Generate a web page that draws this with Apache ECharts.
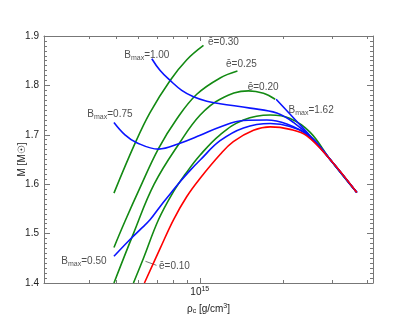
<!DOCTYPE html>
<html><head><meta charset="utf-8">
<script src="https://cdn.jsdelivr.net/npm/echarts@6/dist/echarts.min.js"></script>
<style>html,body{margin:0;padding:0;background:#fff}#c{width:407px;height:326px}</style>
</head><body><div id="c"></div>
<script>
// central density rho_c in units of 1e15 g/cm^3, mass M in solar masses
const rhoRed = [0.632,0.720,0.804,0.898,1.003,1.183,1.32,1.56,1.792,2.114,2.428,2.945,3.673];
const mRed   = [1.400,1.470,1.528,1.575,1.612,1.660,1.686,1.709,1.716,1.711,1.698,1.650,1.583];

const rhoE10 = [0.577,0.627,0.710,0.804,0.886,1.003,1.183,1.436,1.792,2.114,2.496,2.945,3.673];
const mE10   = [1.400,1.450,1.528,1.585,1.620,1.659,1.700,1.730,1.740,1.733,1.705,1.650,1.583];

const rhoE20 = [0.491,0.577,0.685,0.849,1.003,1.183,1.497,1.695,1.867];
const mE20   = [1.400,1.500,1.600,1.685,1.740,1.772,1.789,1.784,1.772];

const rhoE25 = [0.491,0.538,0.606,0.710,0.826,0.975,1.183,1.366];
const mE25   = [1.472,1.525,1.590,1.672,1.732,1.782,1.815,1.829];

const rhoE30 = [0.491,0.585,0.662,0.782,0.898,1.031];
const mE30   = [1.582,1.683,1.745,1.810,1.852,1.881];

const rhoB050 = [0.491,0.554,0.610,0.662,0.720,0.782,0.849,0.923,1.003,1.183,1.436,1.792,2.114,2.496,2.945,3.673];
const mB050   = [1.454,1.485,1.508,1.528,1.555,1.580,1.605,1.628,1.649,1.688,1.714,1.723,1.717,1.697,1.650,1.583];

const rhoB075 = [0.491,0.538,0.593,0.710,0.849,1.003,1.183,1.436,1.743,2.056,2.428,2.945,3.673];
const mB075   = [1.725,1.700,1.684,1.671,1.683,1.699,1.716,1.729,1.730,1.722,1.700,1.650,1.583];

const rhoB100 = [0.672,0.720,0.782,0.861,0.949,1.060,1.183,1.518,1.892,2.173,2.566,2.945,3.673];
const mB100   = [1.854,1.830,1.810,1.790,1.777,1.768,1.763,1.754,1.744,1.725,1.690,1.650,1.583];

const rhoB162 = [1.882,2.235,2.566,2.945,3.673];
const mB162   = [1.772,1.727,1.690,1.650,1.583];

const xMinorTickValues = [0.4,0.5,0.6,0.7,0.8,0.9,2,3,4];
const xMajorTickValues = [1];
const yMin = 1.4, yMax = 1.9, yStep = 0.1;

const FONT = '"Liberation Sans", Arial, sans-serif';
const TXT = '#222';
const AX = '#777';
const GREEN = '#138a13', BLUE = '#0a14ff', RED = '#ff0000';

const rich = {
  n:   {fontSize: 10, fontFamily: FONT, color: TXT, lineHeight: 12, verticalAlign: 'middle'},
  sub: {fontSize: 7, fontFamily: FONT, color: TXT, lineHeight: 8, padding: [8,0,0,0], verticalAlign: 'bottom'},
  sup: {fontSize: 7, fontFamily: FONT, color: TXT, lineHeight: 8, padding: [0,0,8,0], verticalAlign: 'top'}
};

function pairs(xs, ys) { return xs.map((x, i) => [x, ys[i]]); }

function xAxis(pos, ticks, len, showLabel, showLine, extra) {
  return Object.assign({
    type: 'log', logBase: 10, min: 0.275, max: 4.2, position: pos, gridIndex: 0,
    axisLine: {show: showLine, onZero: false, lineStyle: {color: AX, width: 1}},
    axisTick: {show: true, inside: true, length: len, customValues: ticks, lineStyle: {color: AX, width: 1}},
    axisLabel: {show: showLabel, customValues: xMajorTickValues, margin: 3,
      formatter: () => '{n|10}{sup|15}', rich: rich},
    splitLine: {show: false}, minorTick: {show: false}
  }, extra || {});
}
function yAxis(pos, showLabel, extra) {
  return Object.assign({
    type: 'value', min: yMin, max: yMax, interval: yStep, position: pos,
    axisLine: {show: true, lineStyle: {color: AX, width: 1}},
    axisTick: {show: true, inside: true, length: 6, lineStyle: {color: AX}},
    minorTick: {show: true, splitNumber: 10, length: 3, lineStyle: {color: AX}},
    axisLabel: {show: showLabel, margin: 5, color: TXT, fontSize: 10, fontFamily: FONT,
      formatter: v => v.toFixed(1)},
    splitLine: {show: false}, minorSplitLine: {show: false}
  }, extra || {});
}

function curve(xs, ys, color) {
  return {type: 'line', data: pairs(xs, ys), smooth: 0.4, showSymbol: false, symbol: 'none',
    lineStyle: {color: color, width: 1.6}, itemStyle: {color: color}, silent: true, z: 3};
}
function tag(xs, ys, idx, text, offset) {
  return {type: 'scatter', data: [[xs[idx], ys[idx]]], symbolSize: 1,
    itemStyle: {color: 'rgba(0,0,0,0)'}, silent: true, z: 5,
    label: {show: true, position: 'inside', offset: offset, formatter: text, rich: rich}};
}
const last = a => a.length - 1;

const option = {
  animation: false,
  backgroundColor: '#fff',
  grid: {left: 44, right: 34, top: 36, bottom: 43, containLabel: false},
  xAxis: [
    xAxis('bottom', xMinorTickValues, 3, true, true, {
      name: '{n|ρ}{sub|c}{n| [g/cm}{sup|3}{n|]}', nameLocation: 'middle', nameGap: 20,
      nameMoveOverlap: false, nameTextStyle: {rich: rich}}),
    xAxis('bottom', xMajorTickValues, 5, false, false),
    xAxis('top', xMinorTickValues, 3, false, true),
    xAxis('top', xMajorTickValues, 5, false, false)
  ],
  yAxis: [
    yAxis('left', true, {name: 'M [M\u2609]', nameLocation: 'middle', nameGap: 17, nameRotate: 90,
      nameMoveOverlap: false, nameTextStyle: {color: TXT, fontSize: 10, fontFamily: FONT}}),
    yAxis('right', false)
  ],
  series: [
    curve(rhoE30, mE30, GREEN),
    curve(rhoE25, mE25, GREEN),
    curve(rhoE20, mE20, GREEN),
    curve(rhoE10, mE10, GREEN),
    curve(rhoB100, mB100, BLUE),
    curve(rhoB075, mB075, BLUE),
    curve(rhoB050, mB050, BLUE),
    curve(rhoB162, mB162, BLUE),
    curve(rhoRed, mRed, RED),
    tag(rhoE30, mE30, last(rhoE30), '{n|\u0113=0.30}', [20, -3]),
    tag(rhoE25, mE25, last(rhoE25), '{n|\u0113=0.25}', [4, -7]),
    tag(rhoE20, mE20, last(rhoE20), '{n|\u0113=0.20}', [-12, -12]),
    tag(rhoE10, mE10, 1, '{n|\u0113=0.10}', [31, 8]),
    tag(rhoB100, mB100, 0, '{n|B}{sub|max}{n|=1.00}', [-5, -3]),
    tag(rhoB075, mB075, 0, '{n|B}{sub|max}{n|=0.75}', [-4, -8]),
    tag(rhoB050, mB050, 0, '{n|B}{sub|max}{n|=0.50}', [-30, 5]),
    tag(rhoB162, mB162, 0, '{n|B}{sub|max}{n|=1.62}', [35, 11])
  ]
};
const chart = echarts.init(document.getElementById('c'), null, {renderer: 'canvas'});
chart.setOption(option);
// leader line for the e=0.10 label, anchored to the curve point via the axes
const p0 = chart.convertToPixel({gridIndex: 0}, [rhoE10[1], mE10[1]]);
chart.setOption({graphic: [{type: 'line', shape: {x1: p0[0] + 2, y1: p0[1] + 3, x2: p0[0] + 13, y2: p0[1] + 7},
  style: {stroke: '#555', lineWidth: 0.8}, silent: true}]});
</script></body></html>
